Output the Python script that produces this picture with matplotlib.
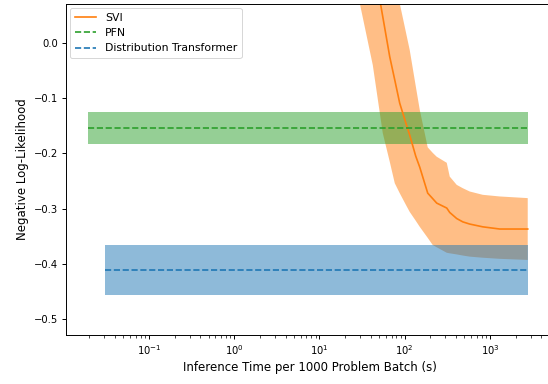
import matplotlib
matplotlib.use("Agg")
import matplotlib.pyplot as plt
import numpy as np

plt.rcParams["savefig.bbox"] = "standard"

# SVI: inference time (s), mean NLL, upper and lower band
svi_time = [25.9, 29.7, 42.2, 55.2, 66.7, 76.4, 87.3, 105.5, 114.4, 134.6, 150, 186, 213,
            237, 311, 337, 407, 479, 578, 821, 1300, 2770]
svi_mean = [0.339, 0.286, 0.151, 0.048, -0.025, -0.067, -0.109, -0.150, -0.167, -0.205,
            -0.225, -0.272, -0.282, -0.290, -0.299, -0.307, -0.318, -0.324, -0.328, -0.333,
            -0.337, -0.337]
svi_upper = [0.53, 0.48, 0.302, 0.217, 0.158, 0.115, 0.072, 0.0127, -0.0127, -0.078,
             -0.121, -0.189, -0.199, -0.206, -0.217, -0.242, -0.257, -0.263, -0.269, -0.275,
             -0.278, -0.281]
svi_lower = [0.115, 0.072, -0.040, -0.163, -0.215, -0.254, -0.272, -0.296, -0.306, -0.322,
             -0.333, -0.353, -0.366, -0.370, -0.380, -0.381, -0.383, -0.385, -0.387, -0.389,
             -0.391, -0.393]

# PFN
pfn_time = [0.0193, 2790]
pfn_mean = -0.154
pfn_upper = -0.125
pfn_lower = -0.183

# Distribution Transformer
dt_time = [0.0305, 2790]
dt_mean = -0.412
dt_upper = -0.366
dt_lower = -0.457

fig = plt.figure(figsize=(5.48, 3.84), dpi=100)
ax = fig.add_axes([0.1204, 0.1276, 0.890, 0.862])

lw = 1.2
ax.plot(svi_time, svi_mean, color="tab:orange", label="SVI", lw=lw)
ax.fill_between(svi_time, svi_lower, svi_upper, color="tab:orange", alpha=0.5, linewidth=0)
ax.plot(pfn_time, [pfn_mean] * 2, color="tab:green", linestyle="--", label="PFN", lw=lw)
ax.fill_between(pfn_time, [pfn_lower] * 2, [pfn_upper] * 2, color="tab:green", alpha=0.5, linewidth=0)
ax.plot(dt_time, [dt_mean] * 2, color="tab:blue", linestyle="--", label="Distribution Transformer", lw=lw)
ax.fill_between(dt_time, [dt_lower] * 2, [dt_upper] * 2, color="tab:blue", alpha=0.5, linewidth=0)

ax.set_xscale("log")
ax.set_xlim(10 ** -1.973, 10 ** 3.747)
ax.set_ylim(-0.529, 0.0707)
ax.set_xlabel("Inference Time per 1000 Problem Batch (s)", fontsize=8.5, labelpad=3)
ax.set_ylabel("Negative Log-Likelihood", fontsize=8.5, labelpad=3)
ax.tick_params(labelsize=7.2, length=3, width=0.7, pad=3)
ax.tick_params(which="minor", length=1.8, width=0.5)
for s in ax.spines.values():
    s.set_linewidth(0.7)
ax.spines["right"].set_visible(False)
leg = ax.legend(loc="upper left", fontsize=7.8, borderaxespad=0.4)
leg.get_frame().set_linewidth(0.7)

fig.savefig("out.png", dpi=100, bbox_inches=None)
plt.close(fig)

# make sure the saved image has exactly the requested size
from PIL import Image  # noqa: E402
im = Image.open("out.png")
print(im.size)
